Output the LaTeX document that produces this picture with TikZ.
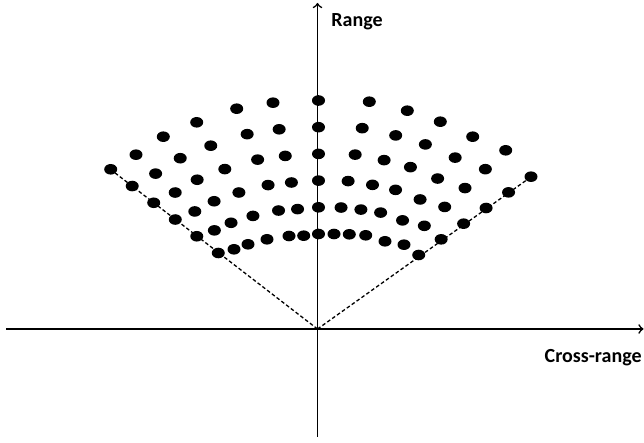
\documentclass[tikz,border=0pt]{standalone}
\usepackage{fontspec}
\setmainfont{Carlito}
\usepackage{tikz}
\usetikzlibrary{arrows, positioning}

\begin{document}
\begin{tikzpicture}[
    x=0.5pt, y=-0.5pt,
    every node/.style={font=\bfseries, inner sep=0pt},
    axisline/.style={line width=0.8pt, ->, >=to},
    sector/.style={line width=0.65pt, dash pattern=on 1.8pt off 1.2pt},
    dotmark/.style={fill=black}
]
\useasboundingbox (0,0) rectangle (644,443);

% axes
\coordinate (origin) at (317.5,329);
\coordinate (xstart) at (6,329);
\coordinate (xend) at (643.5,329);
\coordinate (ystart) at (317.5,437);
\coordinate (yend) at (317.5,3);
\draw[axisline] (xstart) -- (xend);
\draw[axisline] (ystart) -- (yend);

\node[anchor=base west] (range) at (331,26.5) {Range};
\node[anchor=base east] (crossrange) at (642,362.5) {Cross-range};

% edges of the sector
\coordinate (leftedge) at (108,167.5);
\coordinate (rightedge) at (533,175.5);
\draw[sector] (origin) -- (leftedge);
\draw[sector] (origin) -- (rightedge);

% grid of points, ray by ray (inner point / outer point)
\foreach \ax/\ay/\bx/\by in {
    218.3/253/110.7/169.3, 234/249.3/136/154.7, 248/244.3/163.3/136.7,
    267/239.3/196.7/122.3, 289/236/236.7/108.7, 303.7/235.7/273/102.7,
    318.5/234/318.5/100.5, 334/234/369.3/101.7, 349.3/234.3/407.3/110.7,
    365.7/235.3/440.3/121.7, 385/241.3/472.7/136.7, 404/244.7/505.7/150.3,
    418.7/255/531/176.7}
  \foreach \k in {0,...,5}
    \fill[dotmark] ({\ax+(\bx-\ax)*\k/5},{\ay+(\by-\ay)*\k/5}) ellipse [x radius=6.5, y radius=5.3];

\end{tikzpicture}
\end{document}
